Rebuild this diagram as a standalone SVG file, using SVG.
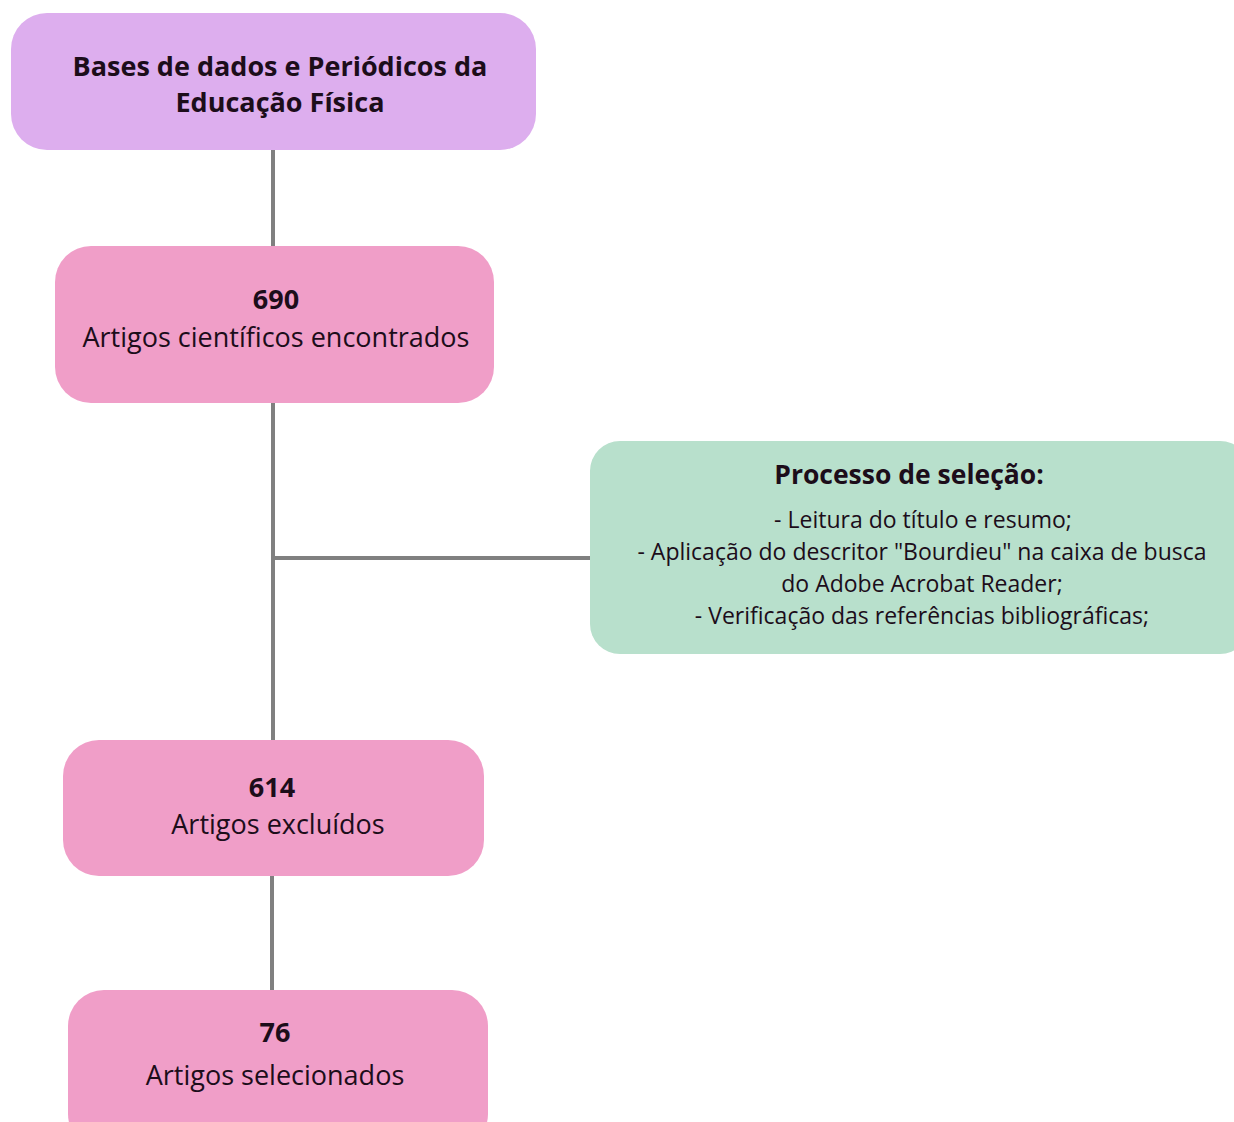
<svg xmlns="http://www.w3.org/2000/svg" width="1234" height="1122" viewBox="0 0 1234 1122">
<style>
.t{font-family:"Open Sans","Noto Sans","DejaVu Sans",sans-serif;fill:#1c0d1a;text-anchor:middle}
.b{font-weight:bold}
.m{font-size:27px}
.s{font-size:23px}
.c{stroke:#808080;stroke-width:4;fill:none}
.pink{fill:#f09ec8}
</style>
<rect width="1234" height="1122" fill="#ffffff"/>
<g id="connectors">
<line class="c" x1="273" y1="148" x2="273" y2="248"/>
<line class="c" x1="273" y1="401" x2="273" y2="742"/>
<line class="c" x1="273" y1="558" x2="592" y2="558"/>
<line class="c" x1="272" y1="874" x2="272" y2="992"/>
</g>
<g id="n1">
<rect x="11" y="13" width="525" height="137" rx="36" fill="#ddaeee"/>
<text class="t b m" x="280" y="76">Bases de dados e Periódicos da</text>
<text class="t b m" x="280" y="112">Educação Física</text>
</g>
<g id="n2">
<rect class="pink" x="55" y="246" width="439" height="157" rx="36"/>
<text class="t b m" x="276" y="309">690</text>
<text class="t m" x="276" y="347">Artigos científicos encontrados</text>
</g>
<g id="n3">
<rect x="590" y="441" width="660" height="213" rx="30" fill="#b8e0cc"/>
<text class="t b" x="909" y="484" font-size="26.5">Processo de seleção:</text>
<text class="t s" x="923" y="528">- Leitura do título e resumo;</text>
<text class="t s" x="922" y="560">- Aplicação do descritor "Bourdieu" na caixa de busca</text>
<text class="t s" x="922" y="592">do Adobe Acrobat Reader;</text>
<text class="t s" x="922" y="624">- Verificação das referências bibliográficas;</text>
</g>
<g id="n4">
<rect class="pink" x="63" y="740" width="421" height="136" rx="36"/>
<text class="t b m" x="272" y="797">614</text>
<text class="t m" x="278" y="834">Artigos excluídos</text>
</g>
<g id="n5">
<rect class="pink" x="68" y="990" width="420" height="160" rx="36"/>
<text class="t b m" x="275" y="1042">76</text>
<text class="t m" x="275" y="1085">Artigos selecionados</text>
</g>
</svg>
